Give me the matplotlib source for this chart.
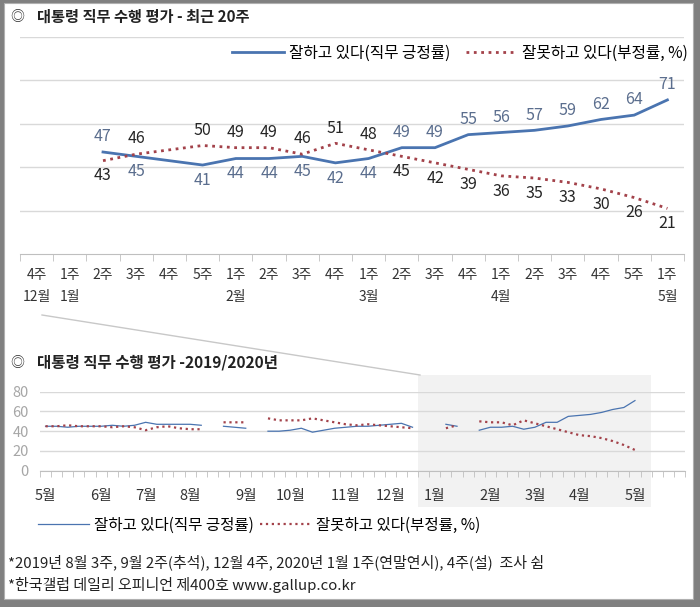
import numpy as np
import matplotlib.pyplot as plt
from matplotlib.patches import Rectangle
from matplotlib.lines import Line2D

plt.rcParams['font.family'] = ['Noto Sans CJK KR', 'DejaVu Sans']

# ---- top chart: last 20 weeks ----
weeks_top = ['4주', '1주', '2주', '3주', '4주', '5주', '1주', '2주', '3주', '4주',
             '1주', '2주', '3주', '4주', '1주', '2주', '3주', '4주', '5주', '1주']
months_top = {0: '12월', 1: '1월', 6: '2월', 10: '3월', 14: '4월', 19: '5월'}
pos_top = [np.nan, np.nan, 47, 45, np.nan, 41, 44, 44, 45, 42,
           44, 49, 49, 55, 56, 57, 59, 62, 64, 71]
neg_top = [np.nan, np.nan, 43, 46, np.nan, 50, 49, 49, 46, 51,
           48, 45, 42, 39, 36, 35, 33, 30, 26, 21]

# ---- bottom chart: weekly 2019/05 .. 2020/05 ----
nan = np.nan
pos_all = [45, 45, 44, 45, 45,      # 2019 May
           45, 46, 45, 46,          # Jun
           49, 47, 47, 47,          # Jul
           47, 46, nan, 45, 44,     # Aug
           43, nan, 40, 40,         # Sep
           41, 43, 39, 41, 43,      # Oct
           44, 45, 45, 46,          # Nov
           47, 48, 44, nan,         # Dec
           nan, 47, 45, nan, 41,    # 2020 Jan
           44, 44, 45, 42,          # Feb
           44, 49, 49, 55,          # Mar
           56, 57, 59, 62, 64,      # Apr
           71]                      # May
neg_all = [45, 45, 46, 45, 45,
           45, 44, 45, 44,
           41, 44, 45, 43,
           42, 42, nan, 49, 49,
           49, nan, 53, 51,
           51, 51, 53, 51, 49,
           47, 46, 47, 46,
           45, 44, 43, nan,
           nan, 43, 46, nan, 50,
           49, 49, 46, 51,
           48, 45, 42, 39,
           36, 35, 33, 30, 26,
           21]
month_names = ['5월', '6월', '7월', '8월', '9월', '10월', '11월', '12월',
               '1월', '2월', '3월', '4월', '5월']
month_start = [0, 5, 9, 13, 18, 22, 27, 31, 35, 40, 44, 48, 53]
n_slots = 58

lab_pos = '잘하고 있다(직무 긍정률)'
lab_neg = '잘못하고 있다(부정률, %)'
c_pos = '#4a74b0'
c_neg = '#a3424a'
c_grid = '#d9d9d9'

W, H = 700, 607
def fx(x):
    return x / W
def fy(y):
    return 1 - y / H

fig = plt.figure(figsize=(7, 6.07), dpi=100, facecolor='#808080')
fig.add_artist(Rectangle((fx(4), fy(599)), fx(689), 596 / H, transform=fig.transFigure,
                         facecolor='white', edgecolor='#b0b0b0', lw=0.8, zorder=-5))

# titles
fig.text(fx(10), fy(17), '◎', fontsize=10, va='center', color='#333333')
fig.text(fx(37), fy(17), '대통령 직무 수행 평가 - 최근 20주', fontsize=11,
         fontweight='bold', va='center', color='#222222')
fig.text(fx(10), fy(363), '◎', fontsize=10, va='center', color='#333333')
fig.text(fx(37), fy(363), '대통령 직무 수행 평가 -2019/2020년', fontsize=11.2,
         fontweight='bold', va='center', color='#222222')

# top axes
ax = fig.add_axes([fx(20), fy(254), 664 / W, 217 / H])
ax.set_facecolor('none')
x_top = np.arange(len(weeks_top))
p = np.array(pos_top, dtype=float)
n = np.array(neg_top, dtype=float)
m = ~np.isnan(p)
ax.plot(x_top[m], p[m], color=c_pos, lw=2, label=lab_pos, zorder=3)
ax.plot(x_top[m], n[m], color=c_neg, lw=2, ls=':', label=lab_neg, zorder=3)
for i in x_top[m]:
    up_p = p[i] > n[i]
    ax.annotate('%d' % p[i], (i, p[i]), xytext=(0, 11 if up_p else -11),
                textcoords='offset points', ha='center', va='center',
                fontsize=11.5, color='#5b6e8e')
    ax.annotate('%d' % n[i], (i, n[i]), xytext=(0, -11 if up_p else 11),
                textcoords='offset points', ha='center', va='center',
                fontsize=11.5, color='#262626')
ax.set_xlim(-0.5, len(weeks_top) - 0.5)
ax.set_ylim(0, 100)
ax.set_yticks([20, 40, 60, 80, 100])
ax.yaxis.grid(True, color=c_grid, lw=1)
ax.tick_params(axis='y', length=0, labelleft=False)
ax.set_xticks(x_top)
ax.set_xticklabels(weeks_top, fontsize=10, color='#333333')
ax.set_xticks(np.arange(-0.5, len(weeks_top)), minor=True)
ax.tick_params(axis='x', which='major', length=0, pad=10)
ax.tick_params(axis='x', which='minor', length=5, color='#bfbfbf', direction='out')
for i, name in months_top.items():
    ax.text(i, -0.198, name, transform=ax.get_xaxis_transform(), ha='center',
            va='center', fontsize=10, color='#333333')
for s in ['left', 'right', 'top']:
    ax.spines[s].set_visible(False)
ax.spines['bottom'].set_color('#bfbfbf')
fig.legend(handles=ax.get_lines(), loc='center right', bbox_to_anchor=(fx(688), fy(53)),
           bbox_transform=fig.transFigure, ncol=2, frameon=False, fontsize=11.3,
           handlelength=3.3, handletextpad=0.3, columnspacing=1.0,
           borderaxespad=0, borderpad=0)

# connector line to the shaded region
fig.add_artist(Line2D([fx(42), fx(420)], [fy(315), fy(375)], transform=fig.transFigure,
                      color='#c8c8c8', lw=1))

# bottom axes
bx = fig.add_axes([fx(40), fy(470.7), 645 / W, 79 / H])
bx.set_facecolor('none')
xb = np.arange(len(pos_all))
bx.add_patch(Rectangle((33.5, -0.46), 20.9, 1.67, transform=bx.get_xaxis_transform(),
                       facecolor='#f2f2f2', edgecolor='none', clip_on=False, zorder=0))
l1, = bx.plot(xb, pos_all, color=c_pos, lw=0.9, label=lab_pos, zorder=3)
l2, = bx.plot(xb, neg_all, color=c_neg, lw=1.6, ls=':', label=lab_neg, zorder=3)
bx.set_xlim(-0.5, n_slots - 0.5)
bx.set_ylim(0, 80)
bx.set_yticks([0, 20, 40, 60, 80])
bx.yaxis.grid(True, color=c_grid, lw=1, zorder=1)
bx.set_axisbelow(True)
bx.tick_params(axis='y', length=0, labelsize=10.5, labelcolor='#a6a6a6', pad=8)
bx.set_xticks(month_start)
bx.set_xticklabels(month_names, fontsize=10.5, color='#333333')
bx.set_xticks(np.arange(-0.5, n_slots), minor=True)
bx.tick_params(axis='x', which='major', length=0, pad=13)
bx.tick_params(axis='x', which='minor', length=4, color='#bfbfbf', direction='out')
for s in ['left', 'right', 'top']:
    bx.spines[s].set_visible(False)
bx.spines['bottom'].set_color('#bfbfbf')
fig.legend(handles=[l1, l2], loc='center left', bbox_to_anchor=(fx(38), fy(525)),
           bbox_transform=fig.transFigure, ncol=2, frameon=False, fontsize=11.2,
           handlelength=3.3, handletextpad=0.3, columnspacing=0.4,
           borderaxespad=0, borderpad=0)

# footnotes
fig.text(fx(8), fy(562), '*2019년 8월 3주, 9월 2주(추석), 12월 4주, 2020년 1월 1주(연말연시), 4주(설)  조사 쉼',
         fontsize=10.8, va='center', color='#222222')
fig.text(fx(8), fy(585), '*한국갤럽 데일리 오피니언 제400호 www.gallup.co.kr',
         fontsize=10.8, va='center', color='#222222')

fig.savefig('out.png', dpi=100, facecolor=fig.get_facecolor())
